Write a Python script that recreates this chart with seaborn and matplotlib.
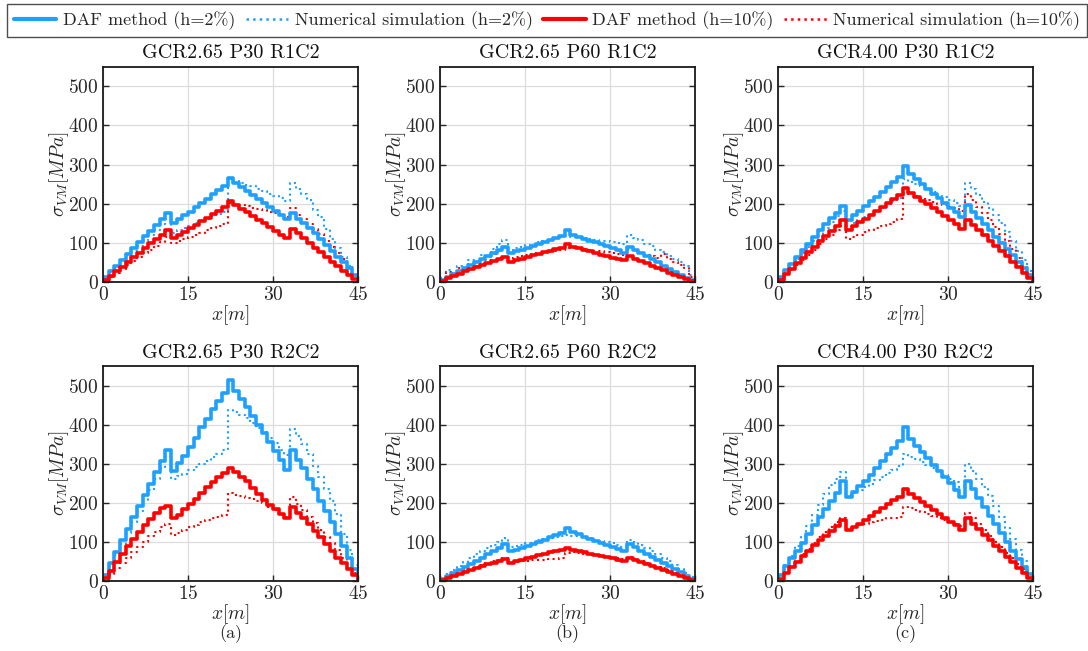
import numpy as np
import pandas as pd
import matplotlib
matplotlib.use("Agg")
import matplotlib.pyplot as plt
from matplotlib.lines import Line2D
import seaborn as sns

# ---------------- data (values at x = 0..45 m, step curves) ----------------
x_m = list(range(46))

titles = ["GCR2.65 P30 R1C2", "GCR2.65 P60 R1C2", "GCR4.00 P30 R1C2",
          "GCR2.65 P30 R2C2", "GCR2.65 P60 R2C2", "CCR4.00 P30 R2C2"]
captions = ["(a)", "(b)", "(c)"]
legend_labels = ["DAF method (h=2%)", "Numerical simulation (h=2%)",
                 "DAF method (h=10%)", "Numerical simulation (h=10%)"]

# panel a, top
a1_daf2 = [12, 27, 42, 57, 72, 87, 102, 117, 131, 146, 160, 176, 150, 160, 170, 180, 191, 202, 213, 224, 235, 246,
           266, 252, 242, 232, 222, 212, 202, 192, 182, 172, 160, 176, 162, 150, 137, 124, 110, 95, 80, 65, 50, 35, 18, 0]
a1_num2 = [8, 22, 36, 50, 64, 78, 92, 106, 120, 134, 148, 160, 126, 132, 138, 144, 150, 156, 162, 168, 174, 180,
           262, 258, 254, 249, 244, 238, 232, 226, 220, 214, 208, 252, 238, 225, 210, 185, 165, 135, 110, 88, 65, 40, 15, 0]
a1_daf10 = [5, 15, 27, 39, 51, 63, 75, 87, 99, 110, 121, 134, 112, 120, 128, 137, 146, 155, 164, 173, 182, 191,
            206, 196, 187, 178, 169, 159, 150, 140, 130, 121, 112, 136, 124, 112, 100, 88, 76, 64, 52, 40, 29, 18, 8, 0]
a1_num10 = [4, 13, 23, 33, 43, 53, 63, 73, 83, 93, 103, 116, 99, 104, 109, 115, 120, 126, 132, 137, 142, 148,
            202, 199, 196, 193, 190, 187, 184, 180, 177, 174, 165, 190, 172, 160, 148, 135, 122, 105, 90, 75, 58, 38, 18, 0]

# panel b, top
b1_daf2 = [4, 12, 20, 28, 36, 44, 52, 60, 67, 74, 81, 90, 74, 78, 83, 88, 93, 98, 103, 108, 113, 118,
           132, 120, 115, 110, 106, 101, 96, 91, 86, 81, 74, 90, 82, 74, 66, 58, 50, 42, 34, 26, 18, 11, 4, 0]
b1_num2 = [10, 30, 24, 42, 36, 55, 50, 70, 64, 85, 96, 108, 82, 86, 90, 94, 98, 102, 106, 108, 112, 114,
           118, 116, 114, 112, 110, 108, 106, 104, 102, 100, 96, 120, 112, 108, 98, 92, 82, 76, 66, 58, 50, 42, 18, 0]
b1_daf10 = [3, 9, 15, 21, 27, 33, 38, 43, 48, 53, 58, 65, 52, 56, 60, 64, 68, 72, 76, 80, 84, 88,
            96, 90, 86, 82, 78, 74, 70, 66, 62, 59, 55, 66, 60, 54, 48, 42, 36, 30, 24, 18, 12, 7, 3, 0]
b1_num10 = [8, 25, 20, 35, 30, 46, 42, 60, 55, 72, 80, 88, 62, 64, 67, 70, 72, 74, 76, 78, 80, 82,
            86, 88, 86, 84, 82, 80, 78, 76, 74, 72, 70, 84, 78, 74, 70, 66, 62, 72, 60, 52, 44, 36, 14, 0]

# panel c, top
c1_daf2 = [14, 30, 47, 64, 81, 98, 115, 132, 148, 163, 177, 194, 158, 170, 182, 194, 206, 218, 230, 242, 255, 268,
           297, 275, 262, 250, 238, 226, 214, 202, 190, 178, 166, 196, 180, 164, 148, 132, 116, 100, 84, 68, 52, 36, 18, 0]
c1_num2 = [10, 26, 42, 58, 74, 90, 106, 122, 138, 153, 168, 182, 142, 150, 158, 166, 174, 182, 190, 198, 206, 215,
           262, 256, 250, 244, 237, 230, 223, 216, 209, 202, 195, 252, 238, 222, 205, 188, 170, 150, 128, 105, 80, 55, 28, 0]
c1_daf10 = [6, 20, 34, 48, 62, 76, 90, 104, 118, 131, 144, 158, 133, 142, 152, 162, 172, 182, 192, 202, 212, 222,
            239, 228, 218, 208, 198, 188, 178, 168, 158, 148, 136, 158, 145, 132, 119, 106, 93, 80, 66, 52, 38, 24, 10, 0]
c1_num10 = [5, 18, 31, 44, 57, 70, 83, 96, 109, 121, 132, 142, 111, 116, 121, 127, 132, 138, 143, 148, 153, 160,
            228, 224, 219, 214, 209, 204, 200, 196, 192, 188, 182, 226, 210, 192, 175, 158, 140, 122, 104, 85, 62, 40, 18, 0]

# panel a, bottom
a2_daf2 = [15, 45, 75, 104, 134, 164, 193, 219, 249, 278, 308, 335, 282, 303, 321, 342, 367, 393, 414, 439, 461, 482,
           513, 487, 465, 445, 422, 400, 378, 355, 333, 310, 285, 335, 310, 290, 262, 235, 205, 178, 150, 120, 90, 60, 30, 0]
a2_num2 = [10, 38, 66, 94, 122, 150, 178, 206, 234, 262, 290, 320, 262, 268, 275, 283, 291, 299, 308, 317, 326, 336,
           438, 432, 424, 416, 404, 392, 380, 366, 352, 336, 322, 390, 372, 350, 325, 295, 265, 235, 205, 172, 120, 80, 40, 0]
a2_daf10 = [7, 25, 48, 70, 90, 108, 125, 143, 158, 174, 186, 192, 160, 170, 183, 196, 210, 224, 240, 253, 265, 276,
            290, 278, 266, 256, 238, 222, 208, 195, 184, 172, 160, 190, 175, 160, 145, 128, 112, 95, 78, 60, 45, 30, 15, 0]
a2_num10 = [3, 17, 32, 46, 60, 74, 88, 101, 114, 126, 137, 147, 117, 123, 130, 137, 144, 151, 156, 161, 165, 170,
            225, 221, 217, 213, 209, 205, 199, 190, 181, 172, 165, 215, 198, 181, 164, 148, 130, 113, 96, 79, 60, 40, 20, 0]

# panel b, bottom
b2_daf2 = [4, 12, 20, 28, 36, 44, 52, 60, 68, 76, 84, 94, 76, 80, 85, 90, 95, 100, 106, 112, 118, 124,
           135, 125, 119, 113, 108, 103, 98, 93, 88, 83, 77, 95, 86, 78, 70, 62, 54, 46, 38, 30, 22, 14, 6, 0]
b2_num2 = [6, 18, 28, 38, 48, 58, 68, 76, 84, 92, 100, 110, 86, 89, 92, 96, 100, 104, 108, 111, 113, 115,
           118, 116, 114, 112, 109, 106, 103, 100, 96, 92, 86, 106, 100, 92, 84, 76, 68, 60, 50, 40, 30, 20, 10, 0]
b2_daf10 = [3, 8, 13, 18, 23, 28, 33, 38, 43, 47, 51, 56, 47, 50, 54, 58, 62, 66, 70, 73, 76, 79,
            84, 79, 76, 73, 70, 67, 64, 61, 58, 55, 51, 58, 53, 48, 43, 38, 33, 28, 23, 18, 13, 8, 3, 0]
b2_num10 = [3, 9, 15, 21, 27, 32, 37, 42, 47, 51, 55, 58, 46, 48, 50, 52, 53, 54, 55, 56, 57, 58,
            72, 74, 72, 70, 68, 66, 64, 62, 60, 58, 56, 62, 57, 52, 47, 42, 37, 32, 27, 21, 15, 10, 4, 0]

# panel c, bottom
c2_daf2 = [15, 38, 58, 78, 98, 120, 142, 164, 185, 205, 225, 257, 215, 228, 242, 256, 272, 290, 307, 324, 340, 357,
           393, 362, 345, 330, 314, 298, 282, 265, 250, 233, 215, 257, 235, 213, 190, 167, 145, 122, 100, 78, 57, 36, 17, 0]
c2_num2 = [12, 40, 65, 90, 115, 140, 168, 195, 222, 245, 262, 278, 219, 226, 233, 241, 249, 258, 267, 276, 285, 294,
           326, 318, 311, 304, 297, 290, 282, 272, 262, 252, 240, 300, 282, 262, 240, 218, 192, 165, 135, 108, 80, 52, 25, 0]
c2_daf10 = [6, 20, 35, 49, 63, 77, 91, 104, 116, 128, 140, 155, 130, 138, 147, 156, 166, 176, 186, 196, 206, 216,
            236, 222, 212, 202, 192, 182, 172, 162, 152, 142, 130, 160, 146, 132, 118, 104, 90, 76, 62, 48, 34, 21, 8, 0]
c2_num10 = [5, 20, 36, 52, 68, 83, 98, 112, 126, 138, 150, 160, 135, 139, 143, 147, 151, 154, 157, 160, 162, 165,
            190, 186, 182, 177, 172, 167, 162, 157, 152, 147, 140, 173, 160, 146, 131, 116, 100, 86, 72, 58, 44, 30, 14, 0]

panels = [
    (a1_daf2, a1_num2, a1_daf10, a1_num10),
    (b1_daf2, b1_num2, b1_daf10, b1_num10),
    (c1_daf2, c1_num2, c1_daf10, c1_num10),
    (a2_daf2, a2_num2, a2_daf10, a2_num10),
    (b2_daf2, b2_num2, b2_daf10, b2_num10),
    (c2_daf2, c2_num2, c2_daf10, c2_num10),
]

# ---------------- style ----------------
sns.set_theme(style="ticks")
plt.rcParams.update({
    "font.family": ["cmr10", "DejaVu Serif"],
    "mathtext.fontset": "cm",
    "axes.formatter.use_mathtext": True,
    "axes.unicode_minus": False,
})

BLUE = "#1ea0ff"
RED = "#ff0000"
colors = [BLUE, BLUE, RED, RED]
styles = ["-", ":", "-", ":"]
widths = [2.6, 1.5, 2.6, 1.5]

fig = plt.figure(figsize=(10.88, 6.51), dpi=100)
W, H = 1088, 651
lefts = [103, 440, 778]
pw = 255
rows = [(66.7, 282), (366, 581)]

for idx, series in enumerate(panels):
    r, c = divmod(idx, 3)
    top, bot = rows[r]
    ax = fig.add_axes([lefts[c] / W, 1 - bot / H, pw / W, (bot - top) / H])
    # draw numerical first, DAF on top
    for k in [1, 3, 0, 2]:
        df = pd.DataFrame({"x": x_m, "y": series[k]})
        sns.lineplot(data=df, x="x", y="y", ax=ax, color=colors[k], linestyle=styles[k],
                     linewidth=widths[k], drawstyle="steps-post", estimator=None,
                     sort=False, legend=False, clip_on=True)
    ax.set_xlim(0, 45)
    ax.set_ylim(0, 550)
    ax.set_xticks([0, 15, 30, 45])
    ax.set_yticks([0, 100, 200, 300, 400, 500])
    ax.grid(True, color="#dcdcdc", linewidth=0.9)
    ax.set_axisbelow(True)
    for s in ax.spines.values():
        s.set_color("#1a1a1a")
        s.set_linewidth(1.3)
    ax.tick_params(direction="in", length=4, width=1.0, top=False, right=True,
                   labelsize=14, colors="#262626", pad=3)
    ax.set_title(titles[idx], fontsize=14.5, pad=6, color="#111111")
    ax.set_xlabel(r"$x[m]$", fontsize=14, labelpad=-1)
    ax.set_ylabel(r"$\sigma_{VM}[MPa]$", fontsize=14, labelpad=-2)
    if r == 1:
        ax.text(0.5, -0.245, captions[c], transform=ax.transAxes, ha="center", va="center",
                fontsize=13)

handles = [Line2D([0], [0], color=colors[k], linestyle=styles[k], linewidth=widths[k] + (0.4 if k % 2 == 0 else 0.3))
           for k in range(4)]
leg = fig.legend(handles, legend_labels, loc="upper center", bbox_to_anchor=(0.5028, 0.997), ncol=4,
                 frameon=True, fancybox=False, edgecolor="#222222", fontsize=13,
                 handlelength=2.35, handletextpad=0.35, columnspacing=0.6, borderpad=0.4,
                 borderaxespad=0.1)
leg.get_frame().set_linewidth(1.0)

fig.savefig("out.png", dpi=100)
